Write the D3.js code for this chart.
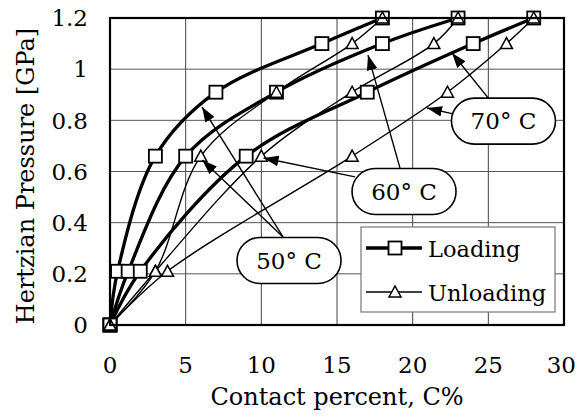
<!DOCTYPE html>
<html>
<head>
<meta charset="utf-8">
<script src="https://cdn.jsdelivr.net/npm/d3@7/dist/d3.min.js"></script>
<style>
  body { margin: 0; background: #fff; }
</style>
</head>
<body>
<div id="chart"></div>
<script>
var width = 577;
var height = 419;

// pressure levels shared by all series [GPa]
var pressure = [0, 0.21, 0.66, 0.91, 1.1, 1.2];

// contact percent at each pressure level
var loading50 = [0, 0.5, 3, 7, 14, 18];
var loading60 = [0, 1.2, 5, 11, 18, 23];
var loading70 = [0, 2.0, 9, 17, 24, 28];
var unloading50 = [0, 3.0, 6, 11, 16, 18];
var unloading60 = [0, 3.0, 10, 16, 21.4, 23];
var unloading70 = [0, 3.8, 16, 22.3, 26.2, 28];

var xTicks = [0, 5, 10, 15, 20, 25, 30];
var yTicks = [0, 0.2, 0.4, 0.6, 0.8, 1, 1.2];
var yTickLabels = ["0", "0.2", "0.4", "0.6", "0.8", "1", "1.2"];

var seriesNames = ["Loading", "Unloading"];
var tempLabels = ["50° C", "60° C", "70° C"];

var m = { left: 110, right: 13, top: 18, bottom: 94 };
var serif = "DejaVu Serif";

var svg = d3
  .select("#chart")
  .append("svg")
  .attr("width", width)
  .attr("height", height);

var x = d3.scaleLinear().domain([0, 30]).range([m.left, width - m.right]);
var y = d3.scaleLinear().domain([0, 1.2]).range([height - m.bottom, m.top]);

// arrowhead
svg.append("defs")
  .append("marker")
  .attr("id", "arrow")
  .attr("markerUnits", "userSpaceOnUse")
  .attr("viewBox", "0 0 14 10")
  .attr("refX", 14)
  .attr("refY", 5)
  .attr("markerWidth", 15)
  .attr("markerHeight", 11)
  .attr("orient", "auto")
  .append("path")
  .attr("d", "M0,0 L14,5 L0,10 Z")
  .attr("fill", "#000");

// grid
var grid = svg.append("g");
grid.selectAll(".vg")
  .data(xTicks.slice(1, -1))
  .enter()
  .append("line")
  .attr("x1", d => x(d)).attr("x2", d => x(d))
  .attr("y1", y(0)).attr("y2", y(1.2))
  .attr("stroke", "#444").attr("stroke-width", 1);
grid.selectAll(".hg")
  .data(yTicks.slice(1, -1))
  .enter()
  .append("line")
  .attr("x1", x(0)).attr("x2", x(30))
  .attr("y1", d => y(d)).attr("y2", d => y(d))
  .attr("stroke", "#555").attr("stroke-width", 1);

function label(sel, size) {
  return sel.attr("font-family", serif).attr("font-size", size + "px").attr("fill", "#000");
}

// tick labels
label(svg.selectAll(".xl")
  .data(xTicks)
  .enter()
  .append("text")
  .attr("y", 373)
  .attr("text-anchor", "middle"), 23)
  .text(d => d)
  .attr("x", function(d) {
    // keep the last label inside the page
    var half = this.getComputedTextLength() / 2;
    return Math.min(x(d), width - 1 - half);
  });

label(svg.selectAll(".yl")
  .data(yTicks)
  .enter()
  .append("text")
  .attr("x", 88)
  .attr("y", d => y(d))
  .attr("dy", "0.36em")
  .attr("text-anchor", "end"), 23)
  .text((d, i) => yTickLabels[i]);

// axis titles
label(svg.append("text")
  .attr("x", (x(0) + x(30)) / 2)
  .attr("y", 405)
  .attr("text-anchor", "middle"), 24)
  .text("Contact percent, C%");

label(svg.append("text")
  .attr("transform", "translate(34," + 176 + ") rotate(-90)")
  .attr("text-anchor", "middle"), 24)
  .text("Hertzian Pressure [GPa]");

// curves
var line = d3.line()
  .x(d => x(d[0]))
  .y(d => y(d[1]))
  .curve(d3.curveCatmullRom.alpha(0.5));

function pts(xs) {
  return xs.map((v, i) => [v, pressure[i]]);
}

var loads = [loading50, loading60, loading70].map(pts);
var unloads = [unloading50, unloading60, unloading70].map(pts);

var plot = svg.append("g");

loads.forEach(function(s) {
  plot.append("path")
    .attr("d", line(s))
    .attr("fill", "none")
    .attr("stroke", "#000")
    .attr("stroke-width", 3.3);
});
unloads.forEach(function(s) {
  plot.append("path")
    .attr("d", line(s))
    .attr("fill", "none")
    .attr("stroke", "#000")
    .attr("stroke-width", 1.4);
});

var sq = 13;
function square(g, cx, cy) {
  g.append("rect")
    .attr("x", cx - sq / 2).attr("y", cy - sq / 2)
    .attr("width", sq).attr("height", sq)
    .attr("fill", "#fff").attr("stroke", "#000").attr("stroke-width", 1.8);
}
function triangle(g, cx, cy) {
  g.append("path")
    .attr("d", "M" + (cx - 6) + "," + (cy + 5) + " L" + cx + "," + (cy - 6) + " L" + (cx + 6) + "," + (cy + 5) + " Z")
    .attr("fill", "#fff").attr("stroke", "#000").attr("stroke-width", 1.5);
}

loads.forEach(function(s) {
  s.forEach(p => square(plot, x(p[0]), y(p[1])));
});
unloads.forEach(function(s) {
  s.forEach(p => triangle(plot, x(p[0]), y(p[1])));
});

// frame
svg.append("rect")
  .attr("x", x(0)).attr("y", y(1.2))
  .attr("width", x(30) - x(0)).attr("height", y(0) - y(1.2))
  .attr("fill", "none").attr("stroke", "#000").attr("stroke-width", 2.2);

// callouts: box centre and arrow tips in data units
var callouts = [
  { label: tempLabels[0], cx: 11.83, cy: 0.252, from: [[11.43, 0.344], [11.43, 0.344]], to: [[6.08, 0.852], [6.1, 0.645]] },
  { label: tempLabels[1], cx: 19.43, cy: 0.522, from: [[19.16, 0.614], [16.19, 0.579]], to: [[17.05, 1.055], [10.15, 0.653]] },
  { label: tempLabels[2], cx: 26.0, cy: 0.797, from: [[25.0, 0.887], [22.67, 0.825]], to: [[22.6, 1.063], [20.95, 0.848]] }
];

var bw = 104, bh = 46;
callouts.forEach(function(c) {
  c.from.forEach(function(f, i) {
    svg.append("line")
      .attr("x1", x(f[0])).attr("y1", y(f[1]))
      .attr("x2", x(c.to[i][0])).attr("y2", y(c.to[i][1]))
      .attr("stroke", "#000").attr("stroke-width", 1.4)
      .attr("marker-end", "url(#arrow)");
  });
  svg.append("rect")
    .attr("x", x(c.cx) - bw / 2).attr("y", y(c.cy) - bh / 2)
    .attr("width", bw).attr("height", bh)
    .attr("rx", bh / 2).attr("ry", bh / 2)
    .attr("fill", "#fff").attr("stroke", "#000").attr("stroke-width", 1.6);
  label(svg.append("text")
    .attr("x", x(c.cx)).attr("y", y(c.cy))
    .attr("dy", "0.36em")
    .attr("text-anchor", "middle"), 23)
    .text(c.label);
});

// legend
var lg = svg.append("g").attr("transform", "translate(361,227)");
lg.append("rect")
  .attr("width", 194).attr("height", 85)
  .attr("fill", "#fff").attr("stroke", "#777").attr("stroke-width", 1.2);

seriesNames.forEach(function(name, i) {
  var ly = 21 + i * 44;
  lg.append("line")
    .attr("x1", 5).attr("x2", 61)
    .attr("y1", ly).attr("y2", ly)
    .attr("stroke", "#000").attr("stroke-width", i === 0 ? 3.3 : 1.4);
  if (i === 0) square(lg, 34, ly);
  else triangle(lg, 34, ly);
  label(lg.append("text")
    .attr("x", 67).attr("y", ly + 9), 22.5)
    .text(name);
});
</script>
</body>
</html>
